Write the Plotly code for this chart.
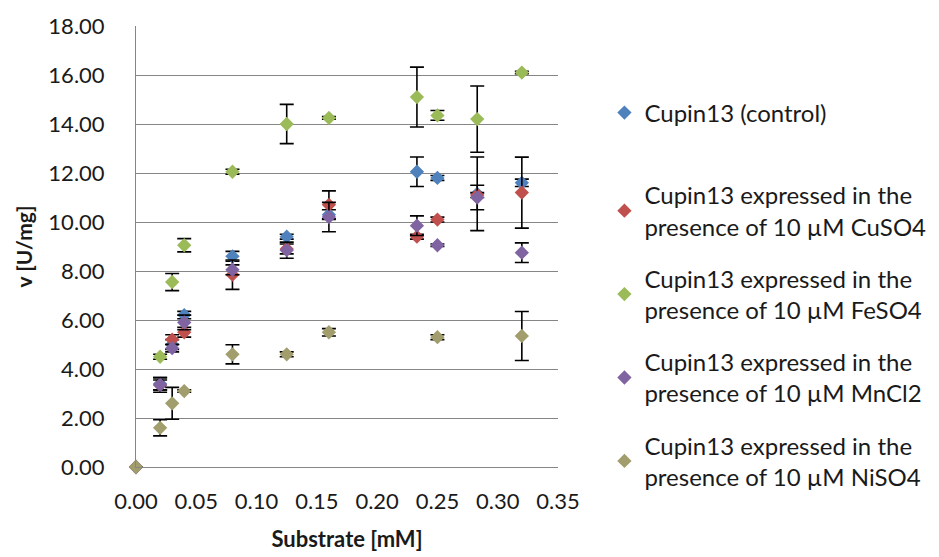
import plotly.graph_objects as go

substrate = [0, 0.02, 0.03, 0.04, 0.08, 0.125, 0.16, 0.233, 0.25, 0.283, 0.32]

control = [0, 3.4, 5.0, 6.2, 8.6, 9.4, 10.3, 12.05, 11.8, 11.15, 11.6]
control_err = [0, 0.25, 0.2, 0.15, 0.2, 0.1, 0.2, 0.6, 0.1, 1.5, 0.15]

cuso4 = [0, 3.35, 5.2, 5.5, 7.85, 8.9, 10.7, 9.4, 10.1, 11.1, 11.2]
cuso4_err = [0, 0.2, 0.2, 0.2, 0.6, 0.2, 0.57, 0.1, 0.1, 0.1, 1.45]

feso4 = [0, 4.5, 7.55, 9.05, 12.05, 14.0, 14.25, 15.1, 14.35, 14.2, 16.1]
feso4_err = [0, 0.1, 0.35, 0.27, 0.1, 0.8, 0.05, 1.22, 0.2, 1.35, 0.05]

mncl2 = [0, 3.35, 4.85, 5.9, 8.05, 8.85, 10.2, 9.85, 9.05, 11.0, 8.75]
mncl2_err = [0, 0.3, 0.15, 0.3, 0.2, 0.33, 0.6, 0.4, 0.05, 0.5, 0.4]

niso4 = [0, 1.6, 2.6, 3.1, 4.6, 4.6, 5.5, None, 5.3, None, 5.35]
niso4_err = [0, 0.33, 0.65, 0.05, 0.39, 0.1, 0.15, 0, 0.1, 0, 1.0]

names = [
    "Cupin13 (control)",
    "Cupin13 expressed in the<br>presence of 10 µM CuSO4",
    "Cupin13 expressed in the<br>presence of 10 µM FeSO4",
    "Cupin13 expressed in the<br>presence of 10 µM MnCl2",
    "Cupin13 expressed in the<br>presence of 10 µM NiSO4",
]
colors = ["#4F81BD", "#C0504D", "#9BBB59", "#8064A2", "#A29D6C"]
series = [control, cuso4, feso4, mncl2, niso4]
errors = [control_err, cuso4_err, feso4_err, mncl2_err, niso4_err]

FONT = "Lato"
TXT = "#1a1a1a"
LEG_SIZE = 24

fig = go.Figure()
for i, (nm, col, ys, es) in enumerate(zip(names, colors, series, errors)):
    fig.add_trace(go.Scatter(
        x=substrate, y=ys, mode="markers", name=nm,
        marker=dict(symbol="diamond", size=11, color=col),
        error_y=dict(type="data", array=es, color="black", thickness=1.6, width=7),
        cliponaxis=False,
        legend="legend" if i == 0 else "legend2",
        legendgroup=f"g{i}",
        showlegend=True,
    ))

fig.update_layout(
    width=939, height=557,
    showlegend=True,
    margin=dict(l=136, r=381, t=26, b=90, autoexpand=False),
    paper_bgcolor="white", plot_bgcolor="white",
    font=dict(family=FONT, size=22, color=TXT),
    xaxis=dict(range=[0, 0.35], dtick=0.05, tickformat=".2f", showgrid=False,
               showline=True, linecolor="#868686", linewidth=1, zeroline=False,
               ticks="", ticklabelstandoff=15, tickfont=dict(size=22),
               automargin=False,
               title=dict(text="<b>Substrate [mM]</b>", standoff=18, font=dict(size=22))),
    yaxis=dict(range=[0, 18], dtick=2, tickformat=".2f", showgrid=True,
               gridcolor="#868686", gridwidth=1,
               showline=True, linecolor="#868686", linewidth=1, zeroline=False,
               ticks="", ticklabelstandoff=26, tickfont=dict(size=22),
               automargin=False,
               title=dict(text="<b>v [U/mg]</b>", standoff=10, font=dict(size=21))),
    legend=dict(x=1.11, y=(467 - 113) / 441, xanchor="left", yanchor="middle",
                font=dict(size=LEG_SIZE), bgcolor="rgba(0,0,0,0)"),
    legend2=dict(x=1.11, y=(467 - 173) / 441, xanchor="left", yanchor="top",
                 font=dict(size=LEG_SIZE), tracegroupgap=18, traceorder="grouped",
                 bgcolor="rgba(0,0,0,0)"),
)

fig.write_html("out.html")
